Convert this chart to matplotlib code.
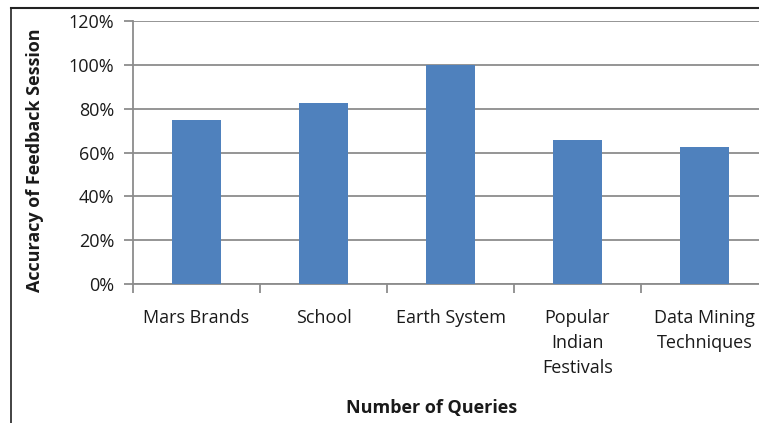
import matplotlib.pyplot as plt
from matplotlib.lines import Line2D
from matplotlib.ticker import FuncFormatter, MultipleLocator
import numpy as np

queries = ["Mars Brands", "School", "Earth System", "Popular\nIndian\nFestivals", "Data Mining\nTechniques"]
accuracy = [75, 82.5, 100, 65.5, 62.7]

plt.rcParams['font.family'] = ['Open Sans', 'DejaVu Sans']

fig = plt.figure(figsize=(7.59, 4.23), dpi=100)
W, H = 759, 423
# axes: x 133..768 px, y 21..284 px (top to bottom)
ax = fig.add_axes([133 / W, 1 - 284 / H, (768 - 133) / W, (284 - 21) / H])

grid_c = '#8c8c8c'
txt_c = '#1a1a1a'
fs = 13
x = np.arange(len(queries))
ax.bar(x, accuracy, width=0.39, color='#4f81bd', zorder=3)

ax.set_xlim(-0.5, len(queries) - 0.5)
ax.set_ylim(0, 120)
ax.yaxis.set_major_locator(MultipleLocator(20))
ax.yaxis.set_major_formatter(FuncFormatter(lambda v, p: f"{v:.0f}%"))
ax.grid(axis='y', color=grid_c, linewidth=1.3, zorder=0)

for s in ['top', 'right']:
    ax.spines[s].set_visible(False)
for s in ['left', 'bottom']:
    ax.spines[s].set_color(grid_c)
    ax.spines[s].set_linewidth(1.3)

ax.set_xticks(x)
ax.set_xticklabels(queries, fontsize=fs, color=txt_c, linespacing=1.5, va='top')
ax.tick_params(axis='x', length=0, pad=18)
ax.set_xticks(np.arange(len(queries)) - 0.5, minor=True)
ax.tick_params(axis='x', which='minor', length=6.5, color=grid_c, width=1.3)
ax.tick_params(axis='y', length=6.5, color=grid_c, width=1.3, labelsize=fs,
               labelcolor=txt_c, pad=7)

fig.text(35 / W, 1 - 160 / H, "Accuracy of Feedback Session", rotation=90,
         ha='center', va='center', fontsize=fs, fontweight='bold', color=txt_c)
fig.text(432 / W, 1 - 408 / H, "Number of Queries", ha='center', va='center',
         fontsize=fs, fontweight='bold', color=txt_c)

# outer chart frame
fig.add_artist(Line2D([11 / W, 11 / W], [0, 1 - 8 / H], color='#222222', linewidth=1.2))
fig.add_artist(Line2D([11 / W, 1], [1 - 8 / H, 1 - 8 / H], color='#222222', linewidth=1.5))

fig.savefig("out.png", dpi=100)
